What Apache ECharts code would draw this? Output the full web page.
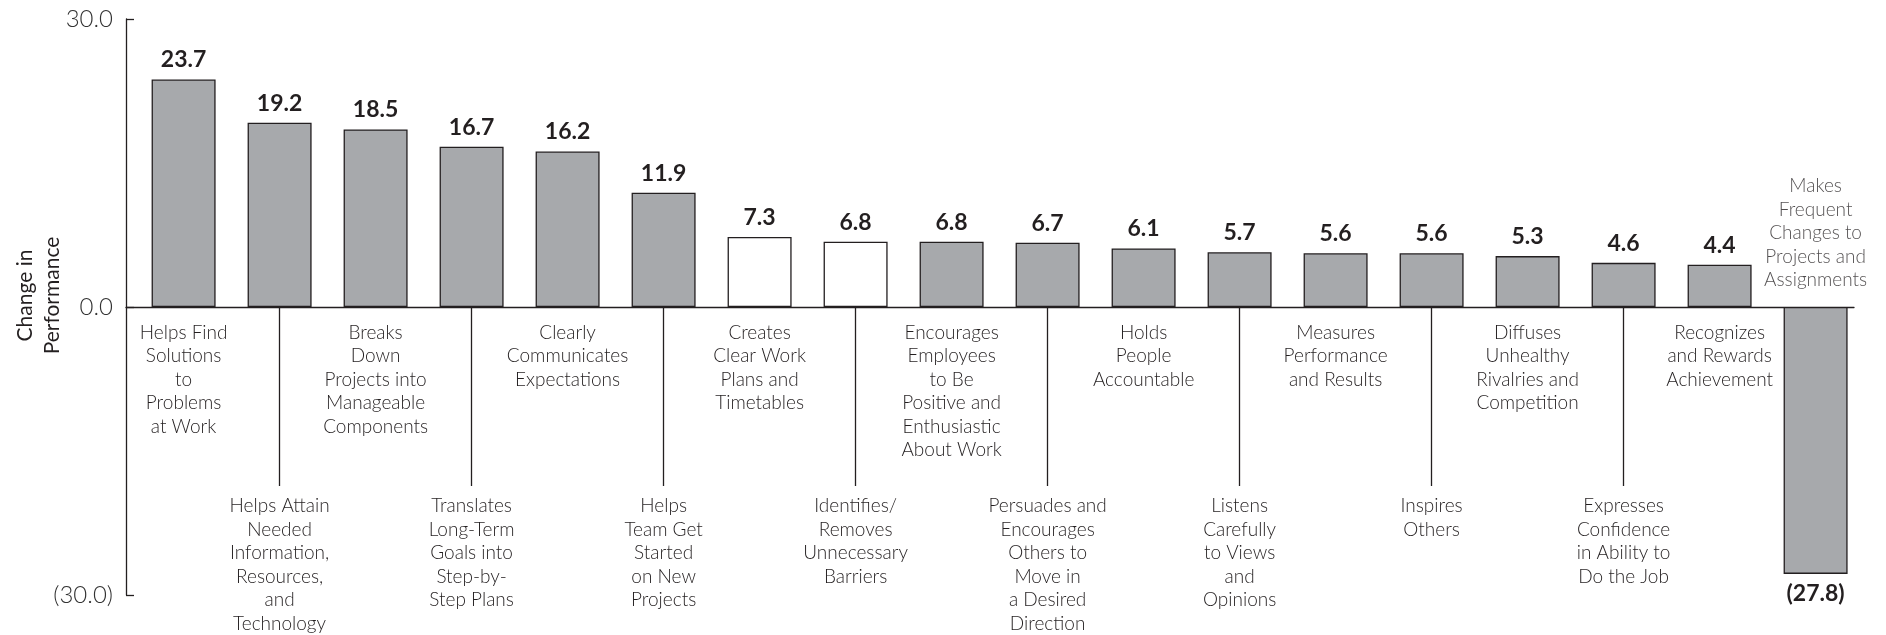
<!DOCTYPE html>
<html>
<head>
<meta charset="utf-8">
<script src="https://cdn.jsdelivr.net/npm/echarts@6/dist/echarts.min.js"></script>
<style>
html,body{margin:0;padding:0;background:#fff;}
#chart{width:1886px;height:635px;}
</style>
</head>
<body>
<div id="chart"></div>
<script>
const categories = [
  "Helps Find\nSolutions\nto\nProblems\nat Work",
  "Helps Attain\nNeeded\nInformation,\nResources,\nand\nTechnology",
  "Breaks\nDown\nProjects into\nManageable\nComponents",
  "Translates\nLong-Term\nGoals into\nStep-by-\nStep Plans",
  "Clearly\nCommunicates\nExpectations",
  "Helps\nTeam Get\nStarted\non New\nProjects",
  "Creates\nClear Work\nPlans and\nTimetables",
  "Identifies/\nRemoves\nUnnecessary\nBarriers",
  "Encourages\nEmployees\nto Be\nPositive and\nEnthusiastic\nAbout Work",
  "Persuades and\nEncourages\nOthers to\nMove in\na Desired\nDirection",
  "Holds\nPeople\nAccountable",
  "Listens\nCarefully\nto Views\nand\nOpinions",
  "Measures\nPerformance\nand Results",
  "Inspires\nOthers",
  "Diffuses\nUnhealthy\nRivalries and\nCompetition",
  "Expresses\nConfidence\nin Ability to\nDo the Job",
  "Recognizes\nand Rewards\nAchievement",
  "Makes\nFrequent\nChanges to\nProjects and\nAssignments"
];
const values = [23.7, 19.2, 18.5, 16.7, 16.2, 11.9, 7.3, 6.8, 6.8, 6.7, 6.1, 5.7, 5.6, 5.6, 5.3, 4.6, 4.4, -27.8];
const yTicks = [-30, 0, 30];
const yAxisTitle = "Change in\nPerformance";
const whiteBars = [6, 7];

const INK = '#231f20';
const FONT = 'Lato';
const lastIdx = categories.length - 1;
const belowIdx = categories.map((c, i) => i).filter(i => i !== lastIdx);
const leaderIdx = belowIdx.filter(i => i % 2 === 1);

const GRID_TOP = 19, GRID_H = 576;
const zeroOffset = -GRID_H * (0 - yTicks[0]) / (yTicks[yTicks.length - 1] - yTicks[0]);

function fmtNum(v) {
  const s = Math.abs(v).toFixed(1);
  return v < 0 ? '(' + s + ')' : s;
}
function richLines(text) {
  return text.split('\n').map(l => '{t|' + l + '}').join('\n');
}
const yNameRich = yAxisTitle.split('\n').map(l => '{g| }{n|' + l + '}').join('\n');

const chart = echarts.init(document.getElementById('chart'), null, {renderer: 'canvas'});
chart.setOption({
  animation: false,
  backgroundColor: '#fff',
  textStyle: {fontFamily: FONT},
  grid: {left: 126, top: GRID_TOP, width: 1728, height: GRID_H, containLabel: false, outerBoundsMode: 'none'},
  xAxis: {
    type: 'value',
    min: -0.6,
    max: categories.length - 0.6,
    offset: zeroOffset,
    axisLine: {show: true, onZero: false, lineStyle: {color: INK, width: 1.3}},
    axisTick: {show: true, customValues: leaderIdx, length: 179, lineStyle: {color: INK, width: 1.3}},
    axisLabel: {
      show: true,
      customValues: belowIdx,
      margin: 14,
      formatter: function (v) {
        const i = Math.round(v);
        const body = richLines(categories[i]);
        return i % 2 === 1 ? '{sp| }\n' + body : body;
      },
      rich: {
        t: {fontFamily: FONT, fontWeight: 300, fontSize: 19, lineHeight: 23.5, color: INK, align: 'center'},
        sp: {fontSize: 10, lineHeight: 173.3}
      }
    },
    splitLine: {show: false}
  },
  yAxis: {
    type: 'value',
    min: yTicks[0],
    max: yTicks[yTicks.length - 1],
    interval: 30,
    name: yNameRich,
    nameLocation: 'middle',
    nameGap: 60,
    nameMoveOverlap: false,
    nameTextStyle: {
      fontFamily: FONT, fontSize: 21, lineHeight: 27, color: INK,
      rich: {
        n: {fontFamily: FONT, fontSize: 21, lineHeight: 27, color: INK},
        g: {fontSize: 21, lineHeight: 27, width: 23}
      }
    },
    axisLine: {show: true, onZero: false, lineStyle: {color: INK, width: 1.3}},
    axisTick: {show: true, inside: true, length: 8, lineStyle: {color: INK, width: 1.3}},
    axisLabel: {margin: 13, fontFamily: FONT, fontWeight: 300, fontSize: 24, color: '#333', formatter: fmtNum},
    splitLine: {show: false}
  },
  series: [
    {
      type: 'bar',
      barWidth: 64,
      data: values.map((v, i) => ({
        value: [i, v],
        itemStyle: {color: whiteBars.includes(i) ? '#ffffff' : '#a7a9ac'},
        label: {position: v < 0 ? 'bottom' : 'top'}
      })),
      itemStyle: {borderColor: INK, borderWidth: 1.3},
      label: {
        show: true,
        distance: 8,
        fontFamily: FONT,
        fontWeight: 'bold',
        fontSize: 23,
        color: INK,
        formatter: p => fmtNum(p.value[1])
      },
      silent: true
    },
    {
      type: 'scatter',
      symbolSize: 0,
      data: [[lastIdx, 0]],
      label: {
        show: true,
        position: 'top',
        distance: 15,
        fontFamily: FONT,
        fontWeight: 300,
        fontSize: 19,
        lineHeight: 23.5,
        align: 'center',
        color: INK,
        formatter: () => categories[lastIdx]
      },
      silent: true
    }
  ]
});
</script>
</body>
</html>
